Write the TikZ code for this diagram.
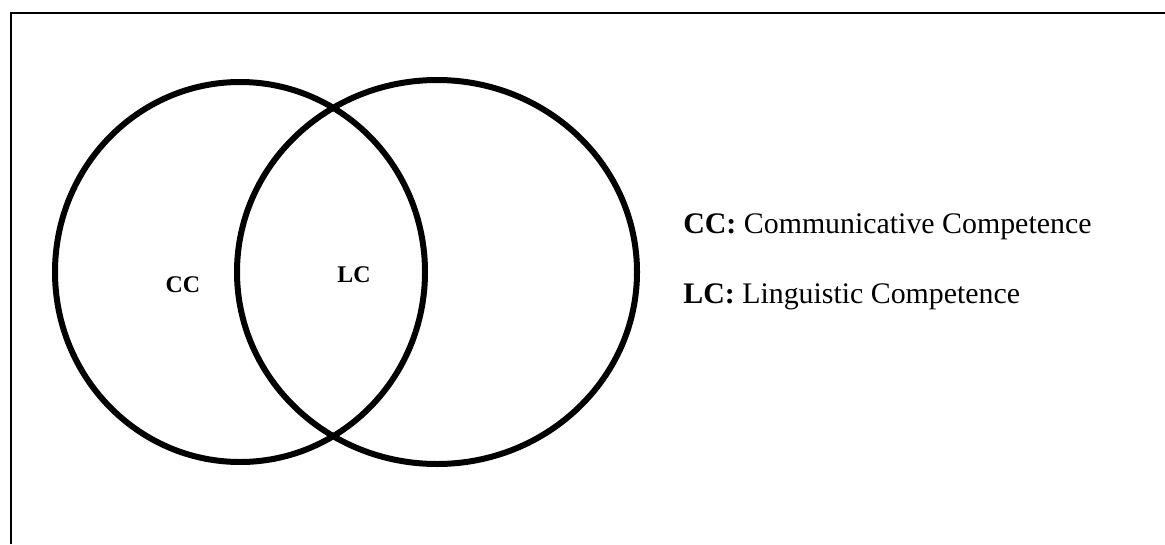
\documentclass[tikz,border=0pt]{standalone}
\usepackage{fontspec}
\setmainfont{Liberation Serif}
\tikzset{
    ring/.style={line width=0.12cm},
    tag/.style={font=\fontsize{13.6}{16}\selectfont\bfseries, inner sep=0pt},
    key/.style={font=\fontsize{17}{20}\selectfont, inner sep=0pt, anchor=base west}
}
\begin{document}
\begin{tikzpicture}[x=0.02cm, y=-0.02cm]
    \useasboundingbox (0,0) rectangle (1165,544);
    % frame
    \draw[line width=0.04cm] (11,544) -- (11,13) -- (1165,13);
    % the two sets
    \draw[ring] (240,272) ellipse (185 and 190);
    \draw[ring] (437,272) ellipse (200 and 192);
    \node[tag] (ccin) at (183,285) {CC};
    \node[tag] (lcin) at (354,275) {LC};
    % legend
    \node[key] (cckey) at (683,233) {\textbf{CC:} Communicative Competence};
    \node[key] (lckey) at (683,303) {\textbf{LC:} Linguistic Competence};
\end{tikzpicture}
\end{document}
